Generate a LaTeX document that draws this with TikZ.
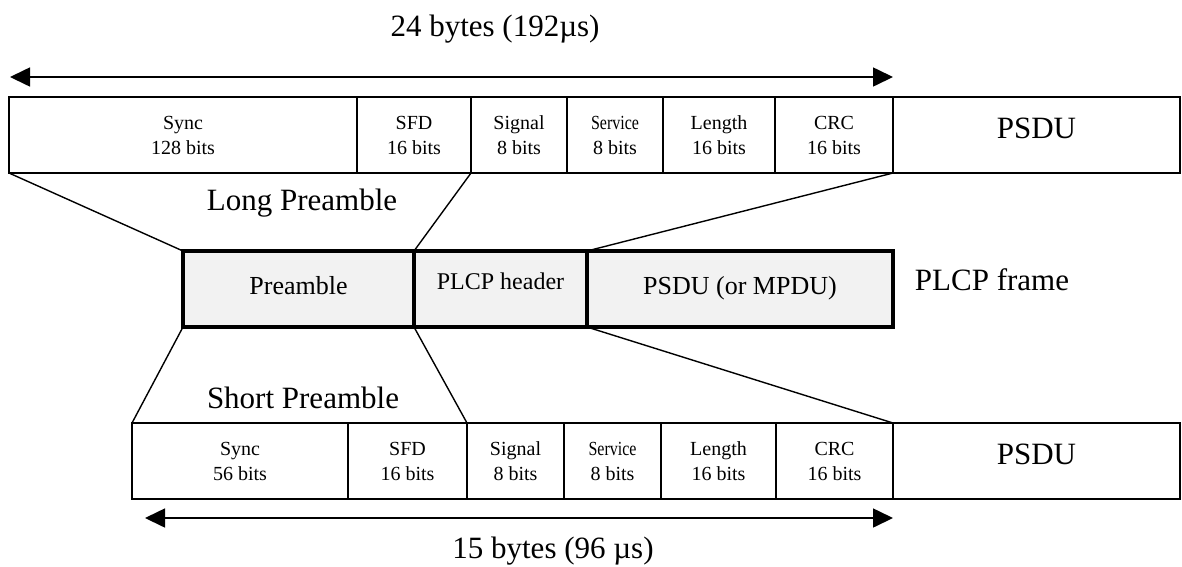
\documentclass[tikz,border=0pt]{standalone}
\usepackage{fontspec}
\usepackage{graphicx}
\setmainfont{Liberation Serif}
\usetikzlibrary{arrows.meta}
\definecolor{framefill}{HTML}{F2F2F2}
\newcommand{\bigtext}{\fontsize{31}{36}\selectfont}
\newcommand{\midtext}{\fontsize{26}{30}\selectfont}
\newcommand{\celltext}{\fontsize{20}{25}\selectfont}
\newcommand{\narrow}[1]{\scalebox{0.8}[1]{#1}}
\begin{document}
\begin{tikzpicture}[x=1pt,y=-1pt,
  cell/.style={draw, line width=1.6pt, minimum height=76pt, inner sep=0pt,
               outer sep=0pt, align=center, font=\celltext},
  bigcell/.style={cell, font=\bigtext, text height=6pt, text depth=0pt},
  framebox/.style={draw, line width=3.5pt, fill=framefill, minimum height=76pt,
                   inner sep=0pt, outer sep=0pt, font=\midtext},
  label/.style={anchor=base, font=\bigtext, inner sep=0pt},
  link/.style={line width=1.4pt},
  span/.style={line width=1.6pt, {Triangle[length=20pt,width=19pt]}-{Triangle[length=20pt,width=19pt]}}
]
\useasboundingbox (0,0) rectangle (1182,566);

% long preamble frame
\node[cell, minimum width=348pt] (lsync) at (183,135) {Sync\\128 bits};
\node[cell, minimum width=114pt] (lsfd)  at (414,135) {SFD\\16 bits};
\node[cell, minimum width=96pt]  (lsig)  at (519,135) {Signal\\8 bits};
\node[cell, minimum width=96pt]  (lserv) at (615,135) {\narrow{Service}\\8 bits};
\node[cell, minimum width=112pt] (llen)  at (719,135) {Length\\16 bits};
\node[cell, minimum width=118pt] (lcrc)  at (834,135) {CRC\\16 bits};
\node[bigcell, minimum width=287pt] (lpsdu) at (1036.5,135) {PSDU};

% PLCP frame
\node[framebox, minimum width=231pt, text height=10pt, text depth=0pt] (pre)  at (298.5,289) {Preamble};
\node[framebox, minimum width=173pt, font=\fontsize{24}{28}\selectfont, text height=8pt, text depth=8pt] (hdr) at (500.5,289) {PLCP header};
\node[framebox, minimum width=306pt, text height=10pt, text depth=0pt] (mpdu) at (740,289) {PSDU (or MPDU)};

% short preamble frame
\node[cell, minimum width=216pt] (ssync) at (240,461) {Sync\\56 bits};
\node[cell, minimum width=119pt] (ssfd)  at (407.5,461) {SFD\\16 bits};
\node[cell, minimum width=97pt]  (ssig)  at (515.5,461) {Signal\\8 bits};
\node[cell, minimum width=97pt]  (sserv) at (612.5,461) {\narrow{Service}\\8 bits};
\node[cell, minimum width=115pt] (slen)  at (718.5,461) {Length\\16 bits};
\node[cell, minimum width=117pt] (scrc)  at (834.5,461) {CRC\\16 bits};
\node[bigcell, minimum width=287pt] (spsdu) at (1036.5,461) {PSDU};

% labels
\node[label] (ltitle) at (495,36) {24 bytes (192µs)};
\node[label] (stitle) at (553,558) {15 bytes (96 µs)};
\node[label] (lname)  at (302,210) {Long Preamble};
\node[label] (sname)  at (303,408) {Short Preamble};
\node[label] (fname)  at (992,290) {PLCP frame};

% length arrows
\coordinate (la) at (10,77);
\coordinate (lb) at (893,77);
\coordinate (sa) at (145,518);
\coordinate (sb) at (893,518);
\draw[span] (la) -- (lb);
\draw[span] (sa) -- (sb);

% expansion lines
\draw[link] (lsync.south west) -- (pre.north west);
\draw[link] (lsig.south west)  -- (hdr.north west);
\draw[link] (lcrc.south east)  -- (mpdu.north west);
\draw[link] (pre.south west)   -- (ssync.north west);
\draw[link] (hdr.south west)   -- (ssig.north west);
\draw[link] (mpdu.south west)  -- (scrc.north east);
\end{tikzpicture}
\end{document}
